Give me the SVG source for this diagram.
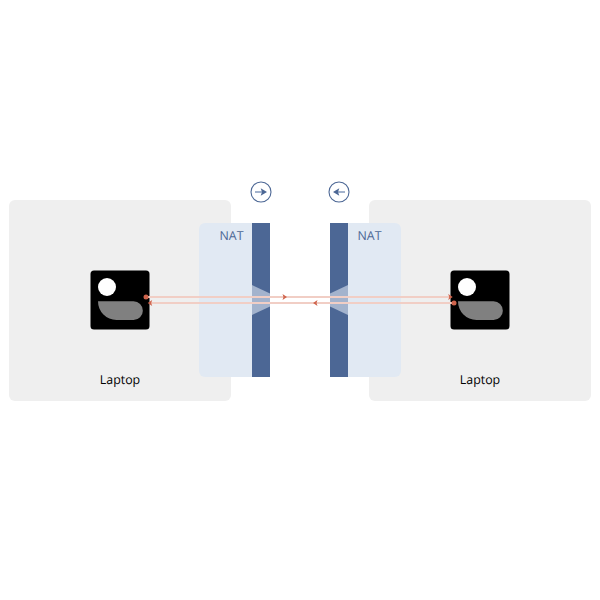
<svg xmlns="http://www.w3.org/2000/svg" width="600" height="600" viewBox="0 0 600 600">
<defs>
<path id="ah" d="M-4.500,-3L0,0L-4.500,3L-3.500,0Z" fill="#d0654d"/>
</defs>
<style>
.box{fill:#efefef}
.nat{fill:#e1e9f3}
.wall{fill:#4c6795}
.hole{fill:#a3b3cd}
.dev{fill:#000}
.lbl{font-family:"Open Sans","Noto Sans",sans-serif;font-size:12.400px;fill:#000;text-anchor:middle;text-rendering:geometricPrecision}
.natl{font-family:"Open Sans","Noto Sans",sans-serif;font-size:12.400px;fill:#4c6795;text-anchor:middle;text-rendering:geometricPrecision}
.ln{stroke:#f1cec5;stroke-width:2;fill:none}
.dot{fill:#d0654d}
.ring{fill:#fff;stroke:#4c6795;stroke-width:1.100}
.al{stroke:#a3b3cd;stroke-width:2}
</style>
<rect width="600" height="600" fill="#fff"/>
<g id="laptop-left"><rect class="box" x="9" y="200" width="222" height="201" rx="6"/><text class="lbl" x="120" y="384" opacity="0.99">Laptop</text></g>
<g id="laptop-right"><rect class="box" x="369" y="200" width="222" height="201" rx="6"/><text class="lbl" x="480" y="384" opacity="0.99">Laptop</text></g>
<g id="nat-left"><path class="nat" d="M252,223H205a6,6 0 0 0-6,6V371a6,6 0 0 0 6,6H252Z"/><rect class="wall" x="252" y="223" width="18" height="154"/><path class="hole" d="M252,285L270,293.500V306.500L252,315Z"/><text class="natl" x="231.500" y="240" opacity="0.99">NAT</text></g>
<g id="nat-right"><path class="nat" d="M348,223H395a6,6 0 0 1 6,6V371a6,6 0 0 1-6,6H348Z"/><rect class="wall" x="330" y="223" width="18" height="154"/><path class="hole" d="M348,285L330,293.500V306.500L348,315Z"/><text class="natl" x="369.500" y="240" opacity="0.99">NAT</text></g>
<g id="device-left"><rect class="dev" x="90.500" y="270.500" width="59" height="59" rx="3.500"/><circle cx="107" cy="287" r="9" fill="#fff"/><path d="M98,301.300H133.500a9.350,9.350 0 0 1 0,18.700H116.500A18.700,18.700 0 0 1 98,301.300Z" fill="#808080"/></g>
<g id="device-right"><rect class="dev" x="450.500" y="270.500" width="59" height="59" rx="3.500"/><circle cx="467" cy="287" r="9" fill="#fff"/><path d="M458,301.300H493.500a9.350,9.350 0 0 1 0,18.700H476.500A18.700,18.700 0 0 1 458,301.300Z" fill="#808080"/></g>
<g id="connectors">
<path class="ln" d="M146,297H450"/>
<path class="ln" d="M454,303H150"/>
<use href="#ah" transform="translate(287,297)"/>
<use href="#ah" transform="translate(313,303) rotate(180)"/>
<use href="#ah" transform="translate(452.700,297)"/>
<use href="#ah" transform="translate(147.700,303) rotate(180)"/>
<circle class="dot" cx="146" cy="297" r="2.500"/>
<circle class="dot" cx="454" cy="303" r="2.500"/>
</g>
<g id="dir-out"><circle class="ring" cx="261" cy="192" r="10"/><path class="al" d="M255,192H262"/><path d="M260.700,188.300L267,192L260.700,195.700L262,192Z" fill="#4c6795"/></g>
<g id="dir-in"><circle class="ring" cx="339" cy="192" r="10"/><path class="al" d="M345,192H338"/><path d="M339.300,188.300L333,192L339.300,195.700L338,192Z" fill="#4c6795"/></g>
</svg>
